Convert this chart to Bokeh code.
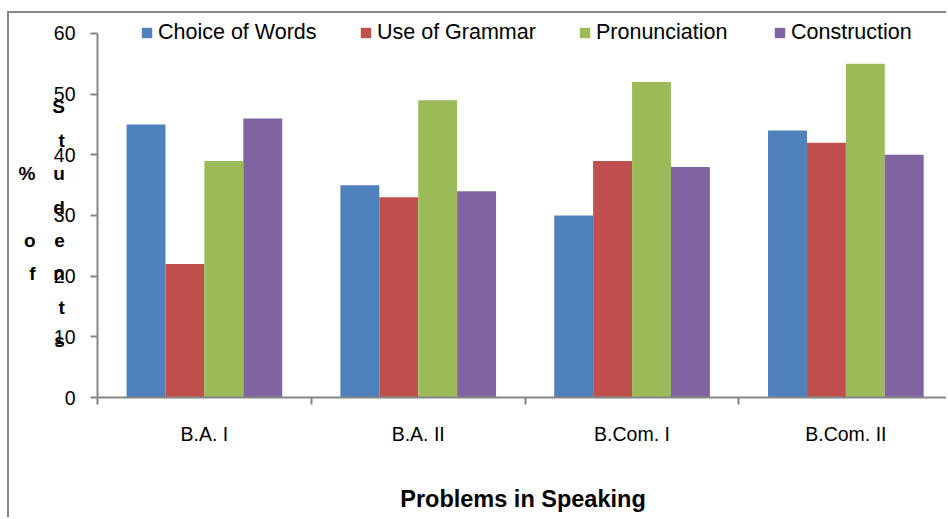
from bokeh.plotting import figure
from bokeh.models import Range1d, FixedTicker, Legend, LegendItem, LinearAxis
from bokeh.embed import file_html
from bokeh.resources import INLINE

# ---- data ----
categories = ["B.A. I", "B.A. II", "B.Com. I", "B.Com. II"]
series_names = ["Choice of Words", "Use of Grammar", "Pronunciation", "Construction"]
choice_of_words = [45, 35, 30, 44]
use_of_grammar = [22, 33, 39, 42]
pronunciation = [39, 49, 52, 55]
construction = [46, 34, 38, 40]
y_ticks = [0, 10, 20, 30, 40, 50, 60]
colors = ["#4F81BD", "#C0504D", "#9BBB59", "#8064A2"]
series = [choice_of_words, use_of_grammar, pronunciation, construction]

FONT = "Liberation Sans"
GRAY = "#868686"

W, H = 939, 506
FRAME_LEFT_PAGE = 97.0
Y_MAX = y_ticks[-1]

# frame extends a little above 60 so the legend (drawn inside the frame) is not clipped;
# the y axis line itself is bounded to 0..60
p = figure(width=W, height=H, output_backend="svg", toolbar_location=None,
           x_range=Range1d(0, 3.98), y_range=Range1d(0, 62.8),
           min_border_left=88, min_border_right=0, min_border_top=3,
           min_border_bottom=122)
p.styles = {"border-left": "2px solid #888888", "border-top": "2px solid #888888",
            "margin-top": "11px", "margin-left": "7px"}
p.outline_line_color = None
p.xgrid.grid_line_color = None
p.ygrid.grid_line_color = None
p.background_fill_color = "white"
p.border_fill_color = "white"

n = len(categories)
centers = [i + 0.5 for i in range(n)]
bar_w = 0.182
offsets = [-1.5 * bar_w, -0.5 * bar_w, 0.5 * bar_w, 1.5 * bar_w]

renderers = []
for vals, off, c in zip(series, offsets, colors):
    r = p.vbar(x=[cx + off for cx in centers], top=vals, width=bar_w,
               fill_color=c, line_color=None)
    renderers.append(r)

# x axis
xa = p.xaxis[0]
xa.ticker = FixedTicker(ticks=centers, minor_ticks=[float(i) for i in range(n + 1)])
xa.major_label_overrides = {c: lab for c, lab in zip(centers, categories)}
xa.major_tick_line_color = None
xa.major_tick_out = 0
xa.major_tick_in = 0
xa.minor_tick_line_color = GRAY
xa.minor_tick_line_width = 2
xa.minor_tick_out = 7
xa.minor_tick_in = 0
xa.axis_line_color = GRAY
xa.axis_line_width = 2
xa.major_label_text_font = FONT
xa.major_label_text_font_size = "19.5px"
xa.major_label_text_color = "#000000"
xa.major_label_standoff = 18
xa.axis_label = "Problems in Speaking"
xa.axis_label_text_font = FONT
xa.axis_label_text_font_style = "bold"
xa.axis_label_text_font_size = "23.5px"
xa.axis_label_text_color = "#000000"
xa.axis_label_standoff = 38

# y axis (its title is shown as stacked letters, as in the original)
ya = p.yaxis[0]
ya.bounds = (0, Y_MAX)
ya.ticker = FixedTicker(ticks=y_ticks)
ya.minor_tick_line_color = None
ya.major_tick_out = 7
ya.major_tick_in = 0
ya.major_tick_line_color = GRAY
ya.major_tick_line_width = 2
ya.axis_line_color = GRAY
ya.axis_line_width = 2
ya.major_label_standoff = 15
ya.major_label_text_font = FONT
ya.major_label_text_font_size = "19.5px"
ya.major_label_text_color = "#000000"
ya.axis_label = "\nS\nt\nu\nd\ne\nn\nt\ns"
ya.axis_label_orientation = "horizontal"
ya.axis_label_text_font = FONT
ya.axis_label_text_font_style = "bold"
ya.axis_label_text_font_size = "19px"
ya.axis_label_text_line_height = 1.59
ya.axis_label_text_color = "#000000"
ya.axis_label_standoff = -14

ya2 = LinearAxis(ticker=FixedTicker(ticks=[]), bounds=(0, Y_MAX), axis_line_color=None,
                 major_tick_line_color=None, minor_tick_line_color=None,
                 major_tick_out=0, major_tick_in=0, minor_tick_out=0, minor_tick_in=0,
                 major_label_standoff=0, major_label_text_font_size="1px",
                 axis_label="\n%\n\no\nf", axis_label_orientation="horizontal",
                 axis_label_text_font=FONT, axis_label_text_font_style="bold",
                 axis_label_text_font_size="19px", axis_label_text_line_height=1.59,
                 axis_label_text_color="#000000", axis_label_standoff=14)
p.add_layout(ya2, "left")

# legend: one entry per series, positioned along the top
legend_px = [140, 359, 578, 773]
for name, r, lx in zip(series_names, renderers, legend_px):
    leg = Legend(items=[LegendItem(label=name, renderers=[r])],
                 location=(lx - FRAME_LEFT_PAGE, 352), orientation="horizontal",
                 padding=0, margin=0, spacing=0, border_line_color=None,
                 background_fill_alpha=0, glyph_width=13, glyph_height=13,
                 label_standoff=5, label_height=26, label_text_font=FONT,
                 label_text_font_size="21.5px", label_text_color="#000000")
    p.add_layout(leg)

open("out.html", "w").write(file_html(p, INLINE))
